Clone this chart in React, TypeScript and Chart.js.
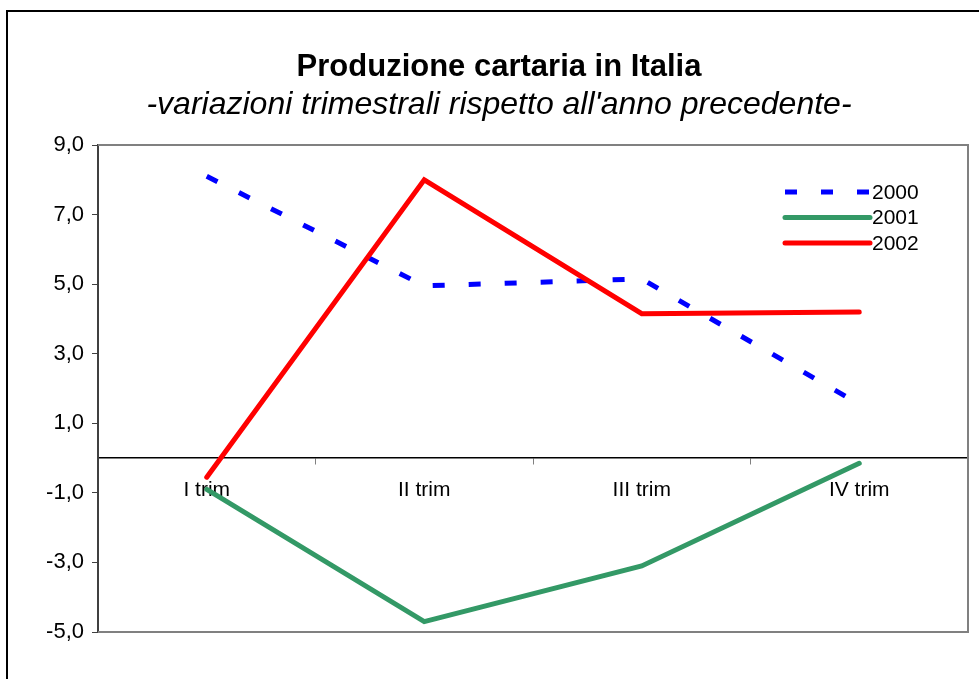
import React, { useEffect, useRef } from "react";
import { Chart, registerables } from "chart.js";

Chart.register(...registerables);

const categories = ["I trim", "II trim", "III trim", "IV trim"];
const series2000 = [8.1, 4.95, 5.15, 1.55];
const series2001 = [-0.9, -4.7, -3.1, -0.15];
const series2002 = [-0.55, 8.0, 4.15, 4.2];
const yTicks = [-5, -3, -1, 1, 3, 5, 7, 9];

const FONT = "'Liberation Sans', Arial, sans-serif";

const frameAndBorder = {
  id: "frameAndBorder",
  beforeDraw(chart: any) {
    const ctx = chart.ctx;
    ctx.save();
    ctx.fillStyle = "#ffffff";
    ctx.fillRect(0, 0, chart.width, chart.height);
    ctx.strokeStyle = "#000000";
    ctx.lineWidth = 2;
    ctx.strokeRect(7, 11, chart.width + 20, chart.height + 20);
    ctx.restore();
  },
  beforeDatasetsDraw(chart: any) {
    const { ctx, chartArea } = chart;
    ctx.save();
    ctx.strokeStyle = "#808080";
    ctx.lineWidth = 2;
    ctx.beginPath();
    ctx.moveTo(chartArea.left, chartArea.top);
    ctx.lineTo(chartArea.right, chartArea.top);
    ctx.lineTo(chartArea.right, chartArea.bottom);
    ctx.lineTo(chartArea.left, chartArea.bottom);
    ctx.stroke();
    ctx.restore();
  },
};

const customLegend = {
  id: "customLegend",
  afterDatasetsDraw(chart: any) {
    const { ctx, chartArea } = chart;
    const x0 = chartArea.right - 183;
    const len = 85;
    const y0 = chartArea.top + 47;
    const gap = 25.5;
    ctx.save();
    chart.data.datasets.forEach((ds: any, i: number) => {
      const y = y0 + i * gap;
      ctx.strokeStyle = ds.borderColor;
      ctx.lineWidth = ds.borderWidth;
      ctx.lineCap = ds.borderDash && ds.borderDash.length ? "butt" : "round";
      ctx.setLineDash(ds.borderDash || []);
      ctx.beginPath();
      ctx.moveTo(x0, y);
      ctx.lineTo(x0 + len, y);
      ctx.stroke();
      ctx.setLineDash([]);
      ctx.fillStyle = "#000000";
      ctx.font = `21px ${FONT}`;
      ctx.textBaseline = "middle";
      ctx.textAlign = "left";
      ctx.fillText(ds.label, x0 + len + 2, y + 1);
    });
    ctx.restore();
  },
};

export default function App() {
  const ref = useRef<HTMLCanvasElement | null>(null);

  useEffect(() => {
    if (!ref.current) return;
    const chart = new Chart(ref.current, {
      type: "line",
      data: {
        labels: categories,
        datasets: [
          {
            label: "2000",
            data: series2000,
            borderColor: "#0000FF",
            backgroundColor: "#0000FF",
            borderWidth: 5,
            borderDash: [12, 24],
            borderCapStyle: "butt",
            pointRadius: 0,
            tension: 0,
            order: 3,
          },
          {
            label: "2001",
            data: series2001,
            borderColor: "#339966",
            backgroundColor: "#339966",
            borderWidth: 5,
            borderCapStyle: "round",
            pointRadius: 0,
            tension: 0,
            order: 2,
          },
          {
            label: "2002",
            data: series2002,
            borderColor: "#FF0000",
            backgroundColor: "#FF0000",
            borderWidth: 5,
            borderCapStyle: "round",
            pointRadius: 0,
            tension: 0,
            order: 1,
          },
        ],
      },
      options: {
        animation: false,
        responsive: false,
        maintainAspectRatio: false,
        layout: { padding: { left: 30, right: 11, top: 0, bottom: 47 } },
        plugins: {
          legend: { display: false },
          tooltip: { enabled: false },
          title: {
            display: true,
            text: "Produzione cartaria in Italia",
            color: "#000000",
            font: { family: FONT, size: 31, weight: "bold", lineHeight: 1.1 },
            padding: { top: 50, bottom: 0 },
          },
          subtitle: {
            display: true,
            text: "-variazioni trimestrali rispetto all'anno precedente-",
            color: "#000000",
            font: { family: FONT, size: 32, style: "italic", lineHeight: 1.2 },
            padding: { top: 2, bottom: 20.5 },
          },
        },
        scales: {
          x: {
            type: "category",
            position: { y: 0 },
            offset: true,
            grid: {
              offset: true,
              drawOnChartArea: false,
              drawTicks: true,
              tickLength: 6,
              color: "#000000",
              tickColor: "#808080",
            },
            border: { display: true, color: "#000000", width: 1.5 },
            ticks: {
              color: "#000000",
              font: { family: FONT, size: 21 },
              padding: 14,
              maxRotation: 0,
              autoSkip: false,
            },
          },
          y: {
            type: "linear",
            min: -5,
            max: 9,
            afterFit: (scale: any) => {
              scale.width = 68;
            },
            afterBuildTicks: (scale: any) => {
              scale.ticks = yTicks.map((v) => ({ value: v }));
            },
            grid: {
              drawOnChartArea: false,
              drawTicks: true,
              tickLength: 6,
              tickColor: "#404040",
            },
            border: { display: true, color: "#404040", width: 2 },
            ticks: {
              color: "#000000",
              font: { family: FONT, size: 22 },
              padding: 8,
              callback: (v: any) => Number(v).toFixed(1).replace(".", ","),
            },
          },
        },
      },
      plugins: [frameAndBorder, customLegend],
    });
    return () => chart.destroy();
  }, []);

  return (
    <div style={{ position: "fixed", left: 0, top: 0, width: 979, height: 679 }}>
      <canvas ref={ref} width={979} height={679} style={{ display: "block" }} />
    </div>
  );
}
